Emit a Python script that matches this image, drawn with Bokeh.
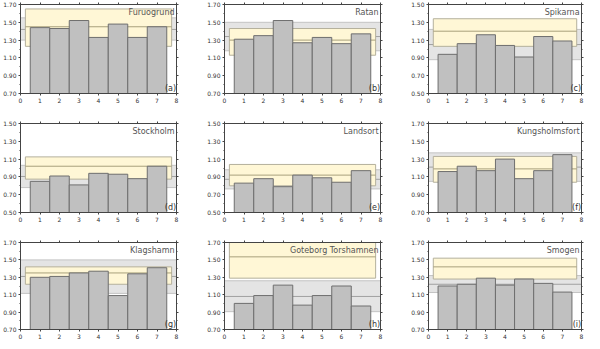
from bokeh.plotting import figure
from bokeh.layouts import column, row
from bokeh.models import (LinearAxis, FixedTicker, Label, Range1d,
                          CustomJSTickFormatter, NumeralTickFormatter)
from bokeh.embed import file_html
from bokeh.resources import INLINE

# ---------------- data ----------------
stations = ["Furuogrund", "Ratan", "Spikarna",
            "Stockholm", "Landsort", "Kungsholmsfort",
            "Klagshamn", "Goteborg Torshamnen", "Smogen"]
letters = ["(a)", "(b)", "(c)", "(d)", "(e)", "(f)", "(g)", "(h)", "(i)"]
y_min = [0.70, 0.70, 0.50, 0.50, 0.50, 0.70, 0.70, 0.70, 0.70]
categories = [1, 2, 3, 4, 5, 6, 7]

bars_a = [1.44, 1.43, 1.52, 1.33, 1.48, 1.33, 1.45]
bars_b = [1.31, 1.35, 1.52, 1.27, 1.33, 1.26, 1.37]
bars_c = [0.94, 1.06, 1.16, 1.04, 0.91, 1.14, 1.09]
bars_d = [0.85, 0.91, 0.81, 0.94, 0.93, 0.88, 1.02]
bars_e = [0.83, 0.88, 0.79, 0.92, 0.89, 0.84, 0.97]
bars_f = [1.16, 1.22, 1.17, 1.30, 1.08, 1.17, 1.35]
bars_g = [1.30, 1.31, 1.35, 1.37, 1.09, 1.34, 1.41]
bars_h = [1.00, 1.09, 1.21, 0.98, 1.09, 1.20, 0.97]
bars_i = [1.20, 1.22, 1.29, 1.21, 1.28, 1.23, 1.13]
bars = [bars_a, bars_b, bars_c, bars_d, bars_e, bars_f, bars_g, bars_h, bars_i]

# grey band (low, mid, high)
grey_low = [1.30, 1.18, 0.88, 0.78, 0.765, 1.05, 1.115, 0.905, 1.125]
grey_mid = [1.42, 1.34, 1.05, 0.905, 0.873, 1.21, 1.31, 1.08, 1.22]
grey_high = [1.55, 1.50, 1.22, 1.03, 0.98, 1.37, 1.50, 1.26, 1.32]
# yellow band (low, mid, high)
yel_low = [1.23, 1.13, 1.03, 0.875, 0.80, 1.04, 1.22, 1.29, 1.28]
yel_mid = [1.45, 1.30, 1.20, 1.02, 0.92, 1.19, 1.35, 1.535, 1.42]
yel_high = [1.65, 1.43, 1.34, 1.125, 1.04, 1.33, 1.42, 1.78, 1.52]

x_ticks = [0, 1, 2, 3, 4, 5, 6, 7, 8]

# ---------------- layout ----------------
col_w = [204, 204, 176]
col_left = [18, 18, 18]
col_right = [28, 28, 3]
row_h = [119, 119, 103]
row_top = [4, 4, 4]
row_bottom = [26, 26, 10]

FONT = "DejaVu Sans"
AX = "#444444"


def style_axis(ax, labels=True):
    ax.axis_line_color = AX
    ax.major_tick_line_color = AX
    ax.minor_tick_line_color = AX
    ax.major_tick_out = 2
    ax.major_tick_in = 0
    ax.minor_tick_out = 1
    ax.minor_tick_in = 0
    if labels:
        ax.major_label_standoff = 2
        ax.major_label_text_font = FONT
        ax.major_label_text_font_size = "6px"
        ax.major_label_text_color = "#333333"
    else:
        ax.major_label_standoff = 0
        ax.major_label_text_font_size = "1px"


def make_panel(k):
    c = k % 3
    r = k // 3
    lo = y_min[k]
    hi = lo + 1.0
    p = figure(width=col_w[c], height=row_h[r], output_backend="svg",
               toolbar_location=None, x_range=Range1d(0, 8),
               y_range=Range1d(lo, hi),
               min_border_left=col_left[c], min_border_right=col_right[c],
               min_border_top=row_top[r], min_border_bottom=row_bottom[r])
    p.grid.visible = False
    p.outline_line_color = AX
    p.outline_line_width = 1
    p.background_fill_color = "white"
    p.border_fill_color = "white"

    yt = [round(lo + 0.2 * i, 2) for i in range(6)]
    ym = [round(lo + 0.1 * i, 2) for i in range(11)]

    p.xaxis.ticker = FixedTicker(ticks=x_ticks, minor_ticks=[])
    p.yaxis.ticker = FixedTicker(ticks=yt, minor_ticks=ym)
    p.yaxis.formatter = NumeralTickFormatter(format="0.00")
    style_axis(p.xaxis[0])
    style_axis(p.yaxis[0])

    blank = CustomJSTickFormatter(code="return ''")
    top = LinearAxis(ticker=FixedTicker(ticks=x_ticks, minor_ticks=[]),
                     formatter=blank)
    right = LinearAxis(ticker=FixedTicker(ticks=yt, minor_ticks=ym),
                       formatter=blank)
    style_axis(top, False)
    style_axis(right, False)
    p.add_layout(top, "above")
    p.add_layout(right, "right")

    # grey band across the whole x range
    p.quad(left=[0], right=[8], bottom=[grey_low[k]], top=[grey_high[k]],
           fill_color="#e4e4e4", line_color="#c4c4c4", line_width=1)
    p.segment(x0=[0], x1=[8], y0=[grey_mid[k]], y1=[grey_mid[k]],
              line_color="#a0a0a0", line_width=1)
    # yellow band
    p.quad(left=[0.25], right=[7.75], bottom=[yel_low[k]], top=[yel_high[k]],
           fill_color="#fff7d6", line_color="#b4b09c", line_width=1)
    p.segment(x0=[0.25], x1=[7.75], y0=[yel_mid[k]], y1=[yel_mid[k]],
              line_color="#a8a07c", line_width=1)
    # bars
    p.vbar(x=categories, width=1.0, bottom=lo, top=bars[k],
           fill_color="#c0c0c0", line_color="#6e6e6e", line_width=1)

    p.add_layout(Label(x=7.9, y=hi - 0.04, text=stations[k],
                       text_align="right", text_baseline="top",
                       text_font=FONT, text_font_size="8px",
                       text_color="#555555"))
    p.add_layout(Label(x=7.98, y=lo + 0.01, text=letters[k],
                       text_align="right", text_baseline="bottom",
                       text_font=FONT, text_font_size="8px",
                       text_color="#333333"))
    return p


panels = [make_panel(k) for k in range(9)]
layout = column(row(*panels[0:3]), row(*panels[3:6]), row(*panels[6:9]))

open("out.html", "w").write(file_html(layout, INLINE))
